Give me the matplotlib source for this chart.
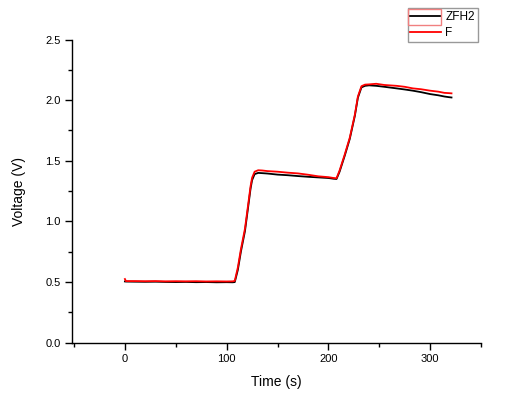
import matplotlib
matplotlib.use("Agg")
import matplotlib.pyplot as plt
from matplotlib.patches import Rectangle
from matplotlib.ticker import MultipleLocator, FormatStrFormatter

plt.rcParams['font.family'] = ['Liberation Sans', 'DejaVu Sans']

time_s = [0, 1, 10, 20, 30, 40, 50, 60, 70, 80, 90, 100, 106, 108, 111, 114, 118, 121, 123.5, 125,
          127.5, 131, 135, 140, 150, 160, 170, 180, 190, 200, 205, 208, 211, 216, 221, 226, 229,
          232.5, 236, 240, 247, 255, 267, 275, 283, 291, 300, 308, 314, 318, 321]

zfh2_v = [0.505, 0.504, 0.503, 0.502, 0.503, 0.501, 0.500, 0.501, 0.499, 0.500, 0.498, 0.499, 0.498, 0.50,
          0.60, 0.75, 0.92, 1.11, 1.27, 1.34, 1.39, 1.40, 1.398, 1.395, 1.386, 1.381, 1.374, 1.368,
          1.363, 1.358, 1.352, 1.35, 1.41, 1.54, 1.68, 1.87, 2.02, 2.105, 2.118, 2.122, 2.118, 2.11,
          2.097, 2.088, 2.078, 2.066, 2.05, 2.04, 2.03, 2.025, 2.022]

f_v = [0.525, 0.508, 0.508, 0.507, 0.508, 0.506, 0.507, 0.506, 0.507, 0.505, 0.506, 0.505, 0.506, 0.51,
       0.62, 0.77, 0.94, 1.13, 1.29, 1.36, 1.41, 1.422, 1.42, 1.415, 1.41, 1.402, 1.396, 1.385,
       1.372, 1.365, 1.358, 1.356, 1.42, 1.55, 1.69, 1.88, 2.03, 2.115, 2.128, 2.13, 2.135, 2.125,
       2.118, 2.11, 2.097, 2.09, 2.078, 2.07, 2.06, 2.058, 2.056]

series_names = ["ZFH2", "F"]

W, H = 527, 399
fig = plt.figure(figsize=(W / 100, H / 100), dpi=100)
ax = fig.add_axes([72 / W, 1 - 342.7 / H, (481 - 72) / W, (342.7 - 39.5) / H])

ax.plot(time_s, zfh2_v, color="black", lw=1.3, label=series_names[0])
ax.plot(time_s, f_v, color="red", lw=1.3, label=series_names[1])

ax.set_xlim(-52, 350)
ax.set_ylim(0, 2.5)
ax.xaxis.set_major_locator(MultipleLocator(100))
ax.xaxis.set_minor_locator(MultipleLocator(50))
ax.yaxis.set_major_locator(MultipleLocator(0.5))
ax.yaxis.set_minor_locator(MultipleLocator(0.25))
ax.yaxis.set_major_formatter(FormatStrFormatter('%.1f'))

for s in ["top", "right"]:
    ax.spines[s].set_visible(False)
for s in ["left", "bottom"]:
    ax.spines[s].set_linewidth(1.0)

ax.tick_params(which="major", direction="out", length=5, width=1, labelsize=8, pad=3)
ax.tick_params(which="minor", direction="out", length=3, width=1)

ax.set_xlabel("Time (s)", fontsize=10, labelpad=8)
ax.set_ylabel("Voltage (V)", fontsize=10, labelpad=14)

leg = fig.legend(loc="upper left", bbox_to_anchor=(407.5 / W, 1 - 8.3 / H),
                 fontsize=8.5, frameon=True, fancybox=False, edgecolor="#808080",
                 handlelength=2.6, handletextpad=0.35, borderpad=0.25, labelspacing=0.35,
                 borderaxespad=0)
leg.get_frame().set_linewidth(1.0)

fig.patches.append(Rectangle((408 / W, 1 - 25 / H), 33 / W, 16.5 / H, transform=fig.transFigure,
                             fill=False, edgecolor="#f08080", lw=1.0, zorder=10))

fig.savefig("out.png", dpi=100)
